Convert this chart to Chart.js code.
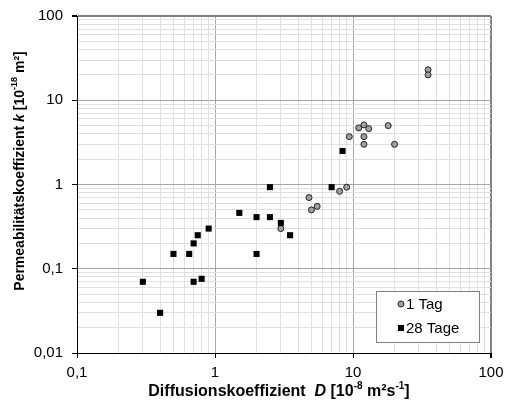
<!DOCTYPE html>
<html>
<head>
<meta charset="utf-8">
<script src="https://cdn.jsdelivr.net/npm/chart.js@4/dist/chart.umd.min.js"></script>
<style>
  html, body { margin: 0; padding: 0; background: #fff; }
  #wrap { width: 506px; height: 402px; }
</style>
</head>
<body>
<div id="wrap"><canvas id="chart"></canvas></div>
<script>
// Daten
const tag1D = [3, 4.8, 5, 5.5, 8, 9, 9.4, 11, 12, 13, 12, 12, 18, 20, 35, 35];
const tag1K = [0.30, 0.7, 0.5, 0.55, 0.83, 0.93, 3.7, 4.7, 5.1, 4.6, 3.7, 3.0, 5.0, 3.0, 23, 20];
const tag28D = [0.3, 0.4, 0.5, 0.65, 0.7, 0.75, 0.9, 0.7, 0.8, 1.5, 2, 2, 2.5, 2.5, 3, 3.5, 7, 8.4];
const tag28K = [0.07, 0.03, 0.15, 0.15, 0.2, 0.25, 0.3, 0.07, 0.076, 0.46, 0.41, 0.15, 0.93, 0.41, 0.35, 0.25, 0.93, 2.5];
const seriesNames = ["1 Tag", "28 Tage"];
const xDecades = [0.1, 1, 10, 100];
const yDecades = [0.01, 0.1, 1, 10, 100];

const FONT = "'Liberation Sans', Arial, sans-serif";

function toPoints(xs, ys) {
  return xs.map((x, i) => ({ x: x, y: ys[i] }));
}

// alle Zwischenwerte 1..9 je Dekade
function logTicks(decades) {
  const res = [];
  for (let i = 0; i < decades.length - 1; i++) {
    for (let m = 1; m < 10; m++) res.push({ value: +(decades[i] * m).toPrecision(6) });
  }
  res.push({ value: decades[decades.length - 1] });
  return res;
}

function isDecade(v) {
  const l = Math.log10(v);
  return Math.abs(l - Math.round(l)) < 1e-9;
}

function fmt(v) {
  return String(v).replace(".", ",");
}

function gridColor(ctx, maxVal) {
  const v = ctx.tick ? ctx.tick.value : null;
  if (v === null) return "#dedede";
  if (Math.abs(v - maxVal) < 1e-9) return "#808080";
  return isDecade(v) ? "#a6a6a6" : "#e0e0e0";
}

// Text mit Kursiv- und Hochstellung zeichnen
function drawRuns(c, runs, x, y, size) {
  const parts = runs.map(r => {
    const sz = r.sup ? Math.round(size * 0.62) : size;
    const f = (r.italic ? "italic " : "") + "bold " + sz + "px " + FONT;
    c.font = f;
    return { t: r.t, f: f, w: c.measureText(r.t).width, dy: r.sup ? -size * 0.36 : 0 };
  });
  const total = parts.reduce((s, p) => s + p.w, 0);
  let cx = x - total / 2;
  c.textBaseline = "middle";
  c.textAlign = "left";
  parts.forEach(p => {
    c.font = p.f;
    c.fillText(p.t, cx, y + p.dy);
    cx += p.w;
  });
}

const xTitle = [
  { t: "Diffusionskoeffizient  " }, { t: "D", italic: true }, { t: " [10" },
  { t: "-8", sup: true }, { t: " m²s" }, { t: "-1", sup: true }, { t: "]" }
];
const yTitle = [
  { t: "Permeabilitätskoeffizient " }, { t: "k", italic: true }, { t: " [10" },
  { t: "-18", sup: true }, { t: " m²]" }
];

const titlesPlugin = {
  id: "titles",
  afterDraw(chart) {
    const c = chart.ctx;
    c.save();
    c.fillStyle = "#000";
    drawRuns(c, xTitle, 279, 392, 16);
    c.translate(20, 171);
    c.rotate(-Math.PI / 2);
    drawRuns(c, yTitle, 0, 0, 14);
    c.restore();
  }
};

const legendPlugin = {
  id: "boxLegend",
  afterDraw(chart) {
    const c = chart.ctx;
    const x0 = 376, y0 = 291, w = 103, h = 51;
    c.save();
    c.fillStyle = "#fff";
    c.fillRect(x0, y0, w, h);
    c.strokeStyle = "#808080";
    c.lineWidth = 1;
    c.strokeRect(x0 + 0.5, y0 + 0.5, w, h);
    c.font = "15px " + FONT;
    c.textBaseline = "middle";
    c.textAlign = "left";
    chart.data.datasets.forEach((ds, i) => {
      const cy = y0 + 13 + i * 24;
      c.fillStyle = ds.backgroundColor;
      c.strokeStyle = ds.borderColor;
      c.lineWidth = ds.borderWidth;
      c.beginPath();
      if (ds.pointStyle === "circle") {
        c.arc(401, cy, ds.pointRadius, 0, Math.PI * 2);
        c.fill();
        c.stroke();
      } else {
        const s = ds.pointRadius * Math.SQRT1_2;
        c.fillRect(401 - s, cy - s, 2 * s, 2 * s);
      }
      c.fillStyle = "#000";
      c.fillText(ds.label, 406, cy + 1);
    });
    c.restore();
  }
};

new Chart(document.getElementById("chart"), {
  type: "scatter",
  data: {
    datasets: [
      {
        label: seriesNames[0],
        data: toPoints(tag1D, tag1K),
        pointStyle: "circle",
        pointRadius: 3,
        pointHoverRadius: 3,
        borderWidth: 1,
        backgroundColor: "#a0a0a0",
        borderColor: "#222",
        order: 1
      },
      {
        label: seriesNames[1],
        data: toPoints(tag28D, tag28K),
        pointStyle: "rect",
        pointRadius: 4.3,
        pointHoverRadius: 4.3,
        borderWidth: 0,
        backgroundColor: "#000",
        borderColor: "#000",
        order: 0
      }
    ]
  },
  options: {
    responsive: true,
    maintainAspectRatio: false,
    animation: false,
    events: [],
    layout: { padding: { top: 16, right: 15, left: 0, bottom: 0 } },
    plugins: {
      legend: { display: false },
      tooltip: { enabled: false }
    },
    scales: {
      x: {
        type: "logarithmic",
        min: xDecades[0],
        max: xDecades[xDecades.length - 1],
        afterBuildTicks: s => { s.ticks = logTicks(xDecades); },
        afterFit: s => { s.height = 49; s.paddingLeft = 0; s.paddingRight = 0; },
        border: { color: "#000", width: 1 },
        grid: {
          color: ctx => gridColor(ctx, xDecades[xDecades.length - 1]),
          lineWidth: ctx => (ctx.tick && ctx.tick.value === xDecades[xDecades.length - 1]) ? 2 : 1,
          tickColor: ctx => (ctx.tick && isDecade(ctx.tick.value)) ? "#000" : "rgba(0,0,0,0)",
          tickLength: 5
        },
        ticks: {
          autoSkip: false,
          maxRotation: 0,
          padding: 6,
          color: "#000",
          font: { family: FONT, size: 15 },
          callback: v => isDecade(v) ? fmt(v) : ""
        }
      },
      y: {
        type: "logarithmic",
        min: yDecades[0],
        max: yDecades[yDecades.length - 1],
        afterBuildTicks: s => { s.ticks = logTicks(yDecades); },
        afterFit: s => { s.width = 77; s.paddingTop = 0; s.paddingBottom = 0; },
        border: { color: "#000", width: 1 },
        grid: {
          color: ctx => gridColor(ctx, yDecades[yDecades.length - 1]),
          lineWidth: ctx => (ctx.tick && ctx.tick.value === yDecades[yDecades.length - 1]) ? 2 : 1,
          tickColor: ctx => (ctx.tick && isDecade(ctx.tick.value)) ? "#000" : "rgba(0,0,0,0)",
          tickLength: 5
        },
        ticks: {
          autoSkip: false,
          padding: 9,
          color: "#000",
          font: { family: FONT, size: 15 },
          callback: v => isDecade(v) ? fmt(v) : ""
        }
      }
    }
  },
  plugins: [titlesPlugin, legendPlugin]
});
</script>
</body>
</html>
